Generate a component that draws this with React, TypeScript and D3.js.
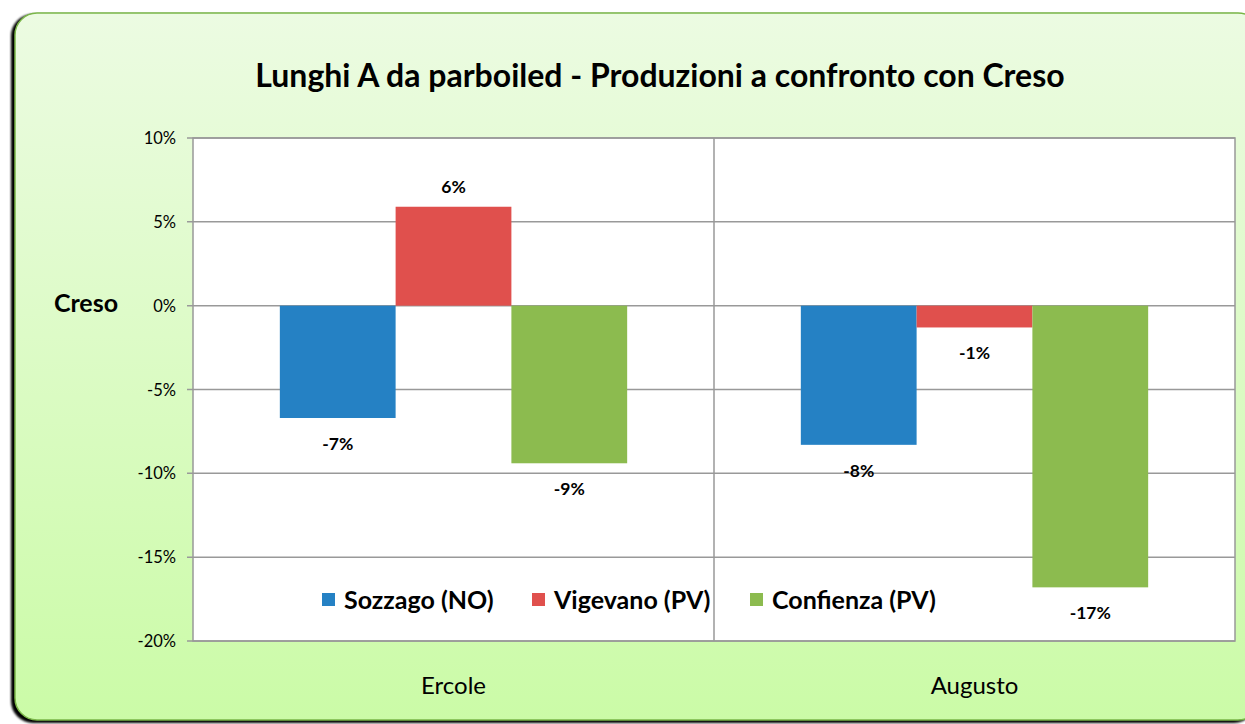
import React, { useEffect, useRef } from "react";
import * as d3 from "d3";

// Chart data
const categories = ["Ercole", "Augusto"];
const seriesNames = ["Sozzago (NO)", "Vigevano (PV)", "Confienza (PV)"];
const sozzago = [-6.7, -8.3];
const vigevano = [5.9, -1.3];
const confienza = [-9.4, -16.8];
const labels = [
  ["-7%", "-8%"],
  ["6%", "-1%"],
  ["-9%", "-17%"],
];
const yTicks = [10, 5, 0, -5, -10, -15, -20];
const colors = ["#2581c4", "#e0504d", "#8cbb4f"];

const W = 1245;
const H = 724;
const FONT = "Lato, 'Open Sans', sans-serif";

export default function App() {
  const ref = useRef<SVGSVGElement>(null);

  useEffect(() => {
    const svg = d3.select(ref.current);
    svg.selectAll("*").remove();

    const values = [sozzago, vigevano, confienza];
    const plot = { left: 193, right: 1235, top: 138, bottom: 641 };

    // background gradient + shadow
    const defs = svg.append("defs");
    const grad = defs
      .append("linearGradient")
      .attr("id", "bg")
      .attr("x1", 0)
      .attr("y1", 0)
      .attr("x2", 0)
      .attr("y2", 1);
    grad.append("stop").attr("offset", "0%").attr("stop-color", "#ecfbe2");
    grad.append("stop").attr("offset", "100%").attr("stop-color", "#cbfba7");
    const blur = defs.append("filter").attr("id", "sh");
    blur.append("feGaussianBlur").attr("stdDeviation", 1.2);

    svg
      .append("rect")
      .attr("x", 11)
      .attr("y", 14)
      .attr("width", 1245)
      .attr("height", 709)
      .attr("rx", 22)
      .attr("fill", "#000")
      .attr("filter", "url(#sh)");
    svg
      .append("rect")
      .attr("x", 15)
      .attr("y", 13)
      .attr("width", 1245)
      .attr("height", 707)
      .attr("rx", 22)
      .attr("fill", "url(#bg)")
      .attr("stroke", "#7ab648")
      .attr("stroke-width", 1.5);

    // title
    svg
      .append("text")
      .attr("x", 660)
      .attr("y", 87)
      .attr("text-anchor", "middle")
      .attr("font-family", FONT)
      .attr("font-weight", "bold")
      .attr("font-size", 32)
      .text("Lunghi A da parboiled - Produzioni a confronto con Creso");

    // scales
    const y = d3.scaleLinear().domain([-20, 10]).range([plot.bottom, plot.top]);
    const x0 = d3
      .scaleBand()
      .domain(categories)
      .range([plot.left, plot.right]);
    const x1 = d3
      .scaleBand()
      .domain(seriesNames)
      .range([0, x0.bandwidth()])
      .paddingOuter(0.75)
      .paddingInner(0);

    // plot area
    svg
      .append("rect")
      .attr("x", plot.left)
      .attr("y", plot.top)
      .attr("width", plot.right - plot.left)
      .attr("height", plot.bottom - plot.top)
      .attr("fill", "#fff")
      .attr("stroke", "#999")
      .attr("stroke-width", 1.5);

    // gridlines + ticks
    svg
      .append("g")
      .selectAll("line")
      .data(yTicks)
      .join("line")
      .attr("x1", plot.left - 6)
      .attr("x2", plot.right)
      .attr("y1", (d) => y(d))
      .attr("y2", (d) => y(d))
      .attr("stroke", "#999")
      .attr("stroke-width", 1.5);

    svg
      .append("g")
      .selectAll("text")
      .data(yTicks)
      .join("text")
      .attr("x", 176)
      .attr("y", (d) => y(d) + 6)
      .attr("text-anchor", "end")
      .attr("font-family", FONT)
      .attr("font-size", 16.5)
      .text((d) => `${d}%`);

    // category separator
    svg
      .append("line")
      .attr("x1", x0(categories[1])!)
      .attr("x2", x0(categories[1])!)
      .attr("y1", plot.top)
      .attr("y2", plot.bottom)
      .attr("stroke", "#999")
      .attr("stroke-width", 1.5);

    // bars + labels
    seriesNames.forEach((s, si) => {
      const g = svg.append("g");
      g.selectAll("rect")
        .data(values[si])
        .join("rect")
        .attr("x", (d, i) => x0(categories[i])! + x1(s)!)
        .attr("width", x1.bandwidth())
        .attr("y", (d) => y(Math.max(0, d)))
        .attr("height", (d) => Math.abs(y(d) - y(0)))
        .attr("fill", colors[si]);
      g.selectAll("text")
        .data(values[si])
        .join("text")
        .attr("x", (d, i) => x0(categories[i])! + x1(s)! + x1.bandwidth() / 2)
        .attr("y", (d) => (d >= 0 ? y(d) - 14 : y(d) + 32))
        .attr("text-anchor", "middle")
        .attr("font-family", FONT)
        .attr("font-weight", "bold")
        .attr("font-size", 17.5)
        .text((d, i) => labels[si][i]);
    });

    // category labels
    svg
      .append("g")
      .selectAll("text")
      .data(categories)
      .join("text")
      .attr("x", (d) => x0(d)! + x0.bandwidth() / 2)
      .attr("y", 694)
      .attr("text-anchor", "middle")
      .attr("font-family", FONT)
      .attr("font-size", 24)
      .text((d) => d);

    // axis title
    svg
      .append("text")
      .attr("x", 86)
      .attr("y", 312)
      .attr("text-anchor", "middle")
      .attr("font-family", FONT)
      .attr("font-weight", "bold")
      .attr("font-size", 25)
      .text("Creso");

    // legend
    const legendX = [322, 532, 750];
    seriesNames.forEach((s, i) => {
      svg
        .append("rect")
        .attr("x", legendX[i])
        .attr("y", 593)
        .attr("width", 13)
        .attr("height", 13)
        .attr("fill", colors[i]);
      svg
        .append("text")
        .attr("x", legendX[i] + 22)
        .attr("y", 609)
        .attr("font-family", FONT)
        .attr("font-weight", "bold")
        .attr("font-size", 25)
        .text(s);
    });
  }, []);

  return (
    <svg
      ref={ref}
      width={W}
      height={H}
      style={{ position: "absolute", left: 0, top: 0, background: "#fff" }}
    ></svg>
  );
}
